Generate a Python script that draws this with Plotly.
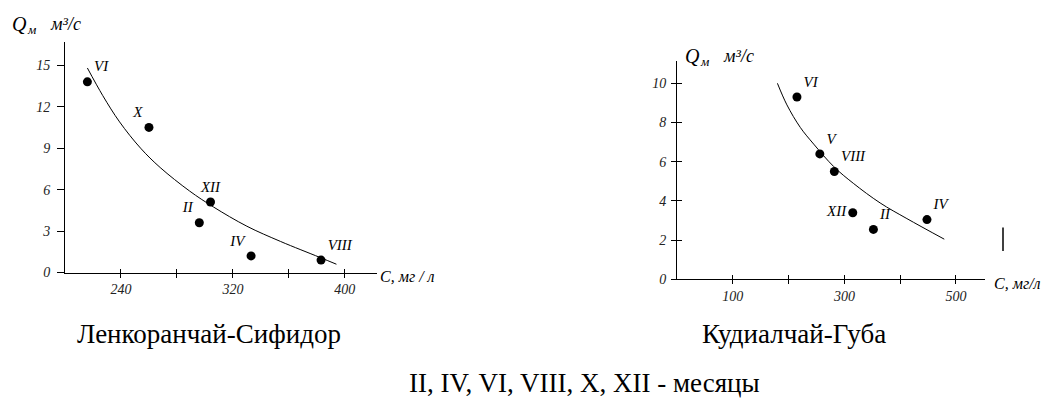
import plotly.graph_objects as go

# ---------------- data ----------------
months_lenk = ["VI", "X", "XII", "II", "IV", "VIII"]
c_lenk = [216, 260, 304, 296, 333, 383]
q_lenk = [13.8, 10.5, 5.1, 3.6, 1.2, 0.9]
pos_lenk = ["top right", "top left", "top center", "top left", "top left", "top right"]

curve_lenk_c = [216, 227, 239, 254, 268, 289, 306, 330, 354, 382, 394]
curve_lenk_q = [14.8, 12.8, 10.9, 9.0, 7.6, 5.9, 4.75, 3.35, 2.25, 1.1, 0.6]

months_kud = ["VI", "V", "VIII", "XII", "II", "IV"]
c_kud = [215, 256, 282, 315, 352, 448]
q_kud = [9.3, 6.4, 5.5, 3.4, 2.55, 3.05]
pos_kud = ["top right", "top right", "top right", "middle left", "top right", "top right"]

curve_kud_c = [180, 197, 221, 245, 281, 316, 364, 412, 479]
curve_kud_q = [10.0, 8.9, 7.75, 6.9, 5.75, 4.9, 3.9, 3.1, 2.05]

lenk_xlabels = [240, 320, 400]
lenk_xminor = [280, 360]
lenk_yticks = [0, 3, 6, 9, 12, 15]
kud_xlabels = [100, 300, 500]
kud_xminor = [200, 400]
kud_yticks = [0, 2, 4, 6, 8, 10]

title_lenk = "Ленкоранчай-Сифидор"
title_kud = "Кудиалчай-Губа"
note = "II, IV, VI, VIII, X, XII - месяцы"
ylabel_main = "Q"
ylabel_sub = "м"
ylabel_unit = "м³/с"
xlabel_lenk = "C, мг / л"
xlabel_kud = "C, мг/л"

# ---------------- layout constants ----------------
W, H = 1054, 405
def px(x):
    return x / W
def py(y):
    return 1 - y / H

SERIF = "Liberation Serif"
tickfont = dict(family=SERIF, size=14, color="#222", style="italic")
lblfont = dict(family=SERIF, size=15, color="black", style="italic")

LX = [200, 423]
LY = [0, 16.67]
RX = [0, 552]
RY = [0, 11.15]

fig = go.Figure()

# left chart
fig.add_trace(go.Scatter(x=curve_lenk_c, y=curve_lenk_q, mode="lines",
                         line=dict(color="black", width=1, shape="spline", smoothing=1.0),
                         xaxis="x", yaxis="y", hoverinfo="skip", showlegend=False))
fig.add_trace(go.Scatter(x=c_lenk, y=q_lenk, mode="markers+text", text=months_lenk,
                         textposition=pos_lenk, textfont=lblfont,
                         marker=dict(color="black", size=9),
                         xaxis="x", yaxis="y", showlegend=False, cliponaxis=False))
# right chart
fig.add_trace(go.Scatter(x=curve_kud_c, y=curve_kud_q, mode="lines",
                         line=dict(color="black", width=1, shape="spline", smoothing=1.0),
                         xaxis="x2", yaxis="y2", hoverinfo="skip", showlegend=False))
fig.add_trace(go.Scatter(x=c_kud, y=q_kud, mode="markers+text", text=months_kud,
                         textposition=pos_kud, textfont=lblfont,
                         marker=dict(color="black", size=9),
                         xaxis="x2", yaxis="y2", showlegend=False, cliponaxis=False))

# invisible traces carrying the overlay axes (inner half of crossing ticks)
for xa, ya, xs, ys in [("x3", "y", c_lenk, q_lenk), ("x4", "y2", c_kud, q_kud), ("x2", "y5", c_kud, q_kud)]:
    fig.add_trace(go.Scatter(x=xs, y=ys, mode="markers", marker=dict(opacity=0),
                             xaxis=xa, yaxis=ya, hoverinfo="skip", showlegend=False))

common = dict(showgrid=False, zeroline=False, linecolor="black", linewidth=1,
              tickcolor="black", tickwidth=1, tickfont=tickfont, fixedrange=True)

def minor(vals, side, ln):
    return dict(tickmode="array", tickvals=vals, ticks=side, ticklen=ln,
                tickcolor="black", tickwidth=1, showgrid=False)

fig.update_layout(
    width=W, height=H, autosize=False,
    margin=dict(l=0, r=0, t=0, b=0),
    paper_bgcolor="white", plot_bgcolor="white",
    xaxis=dict(domain=[px(65), px(377)], range=LX, anchor="y", showline=True,
               tickmode="array", tickvals=lenk_xlabels,
               ticks="outside", ticklen=4, minor=minor(lenk_xminor, "outside", 4), **common),
    yaxis=dict(domain=[py(278), py(43)], range=LY, anchor="x", showline=True,
               tickmode="array", tickvals=lenk_yticks, ticklabelstandoff=4,
               ticks="outside", ticklen=7, **common),
    xaxis3=dict(overlaying="x", anchor="y", range=LX, showline=False,
                tickmode="array", tickvals=lenk_xlabels, showticklabels=False,
                ticks="inside", ticklen=4, minor=minor(lenk_xminor, "inside", 4), **common),
    xaxis2=dict(domain=[px(677), px(985)], range=RX, anchor="y2", showline=True,
                tickmode="array", tickvals=kud_xlabels,
                ticks="outside", ticklen=4, minor=minor(kud_xminor, "outside", 4), **common),
    yaxis2=dict(domain=[py(285), py(62)], range=RY, anchor="x2", showline=True,
                tickmode="array", tickvals=kud_yticks, ticklabelstandoff=2,
                ticks="outside", ticklen=5, **common),
    xaxis4=dict(overlaying="x2", anchor="y2", range=RX, showline=False,
                tickmode="array", tickvals=kud_xlabels, showticklabels=False,
                ticks="inside", ticklen=4, minor=minor(kud_xminor, "inside", 4), **common),
    yaxis5=dict(overlaying="y2", anchor="x2", range=RY, showline=False,
                tickmode="array", tickvals=kud_yticks, showticklabels=False,
                ticks="inside", ticklen=5, **common),
)

ital = lambda s: dict(family=SERIF, size=s, color="black", style="italic")
annots = [
    # left Q label
    dict(text=ylabel_main, x=px(10), y=py(24), xanchor="left", font=ital(20)),
    dict(text=ylabel_sub, x=px(25), y=py(30), xanchor="left", font=ital(13)),
    dict(text=ylabel_unit, x=px(48), y=py(24), xanchor="left", font=ital(18)),
    # right Q label
    dict(text=ylabel_main, x=px(683), y=py(57), xanchor="left", font=ital(20)),
    dict(text=ylabel_sub, x=px(698), y=py(63), xanchor="left", font=ital(13)),
    dict(text=ylabel_unit, x=px(721), y=py(57), xanchor="left", font=ital(18)),
    dict(text=xlabel_lenk, x=px(378), y=py(282), xanchor="left", font=ital(16)),
    dict(text=xlabel_kud, x=px(992), y=py(289), xanchor="left", font=ital(16)),
    dict(text=title_lenk, x=px(75), y=py(341), xanchor="left",
         font=dict(family=SERIF, size=27, color="black")),
    dict(text=title_kud, x=px(700), y=py(341), xanchor="left",
         font=dict(family=SERIF, size=27, color="black")),
    dict(text=note, x=px(407), y=py(391), xanchor="left",
         font=dict(family=SERIF, size=27, color="black")),
]
for a in annots:
    a.update(xref="paper", yref="paper", showarrow=False, yanchor="middle")
    fig.add_annotation(**a)

# stray vertical stroke present in the source image
fig.add_shape(type="line", xref="paper", yref="paper",
              x0=px(1003), x1=px(1003), y0=py(232), y1=py(256),
              line=dict(color="black", width=1.5))

fig.write_html("out.html")
